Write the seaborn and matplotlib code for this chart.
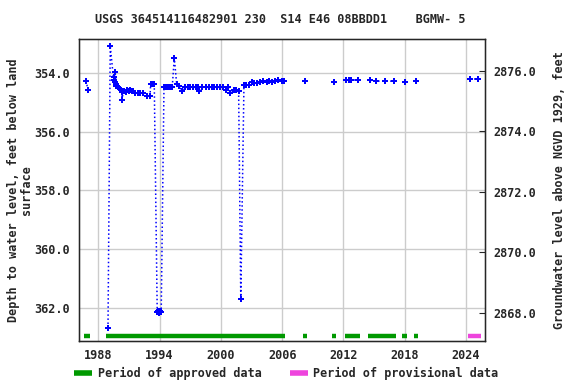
"""
plot.py -- groundwater depth chart for USGS 364514116482901 (BGMW- 5).

Depth to water on the left axis (inverted), elevation on the right,
with the approved / provisional record periods as bars along the bottom.
"""

import numpy as np
import pandas as pd
import matplotlib
matplotlib.use("Agg")
import matplotlib.pyplot as plt
from matplotlib.lines import Line2D
import seaborn as sns

TITLE = "USGS 364514116482901 230  S14 E46 08BBDD1    BGMW- 5"

# ---- measurements (decimal year, depth in feet below land surface) ----
years = [
    1986.80, 1987.00,
    1988.95, 1989.17, 1989.50, 1989.55, 1989.60, 1989.66, 1989.72, 1989.78,
    1989.90, 1990.00, 1990.10, 1990.19, 1990.28, 1990.35, 1990.42, 1990.55,
    1990.70, 1990.85, 1991.00, 1991.15, 1991.30, 1991.40, 1991.62, 1991.90,
    1992.10, 1992.35, 1992.74, 1993.06, 1993.13, 1993.30, 1993.48,
    1993.77, 1993.88, 1993.98, 1994.08, 1994.16,
    1994.43, 1994.60, 1994.80, 1995.00, 1995.24, 1995.44, 1995.67, 1995.90,
    1996.19, 1996.48, 1996.75, 1997.00, 1997.30, 1997.55, 1997.78, 1997.88,
    1998.20, 1998.50, 1998.80, 1999.10, 1999.35, 1999.60, 1999.90, 2000.23,
    2000.47, 2000.72, 2000.92, 2001.28, 2001.50, 2001.74, 2001.95,
    2002.26, 2002.50, 2002.77, 2003.00, 2003.24, 2003.50, 2003.80, 2004.15,
    2004.48, 2004.74, 2005.00, 2005.30, 2005.60, 2005.95, 2006.17,
    2008.25, 2011.09, 2012.30, 2012.50, 2012.70, 2013.41, 2014.60, 2015.17,
    2016.05, 2016.93, 2018.04, 2019.11, 2024.37, 2025.18,
]
depths = [
    354.28, 354.60,
    362.67, 353.09, 354.25, 354.15, 354.33, 353.99, 354.40, 354.45,
    354.50, 354.53, 354.57, 354.59, 354.65, 354.93, 354.62, 354.61,
    354.66, 354.60, 354.64, 354.60, 354.62, 354.61, 354.68, 354.70,
    354.69, 354.70, 354.80, 354.80, 354.39, 354.38, 354.39,
    362.14, 362.10, 362.16, 362.10, 362.14,
    354.50, 354.50, 354.50, 354.50, 354.50, 353.49, 354.38, 354.47,
    354.61, 354.50, 354.50, 354.50, 354.50, 354.50, 354.50, 354.61,
    354.50, 354.50, 354.50, 354.50, 354.50, 354.50, 354.50, 354.50,
    354.59, 354.50, 354.69, 354.60, 354.58, 354.63, 361.68,
    354.42, 354.41, 354.42, 354.33, 354.35, 354.35, 354.33, 354.30,
    354.33, 354.30, 354.31, 354.28, 354.26, 354.28, 354.29,
    354.29, 354.33, 354.26, 354.26, 354.26, 354.26, 354.26, 354.29,
    354.29, 354.29, 354.33, 354.29, 354.22, 354.22,
]

# ---- record periods (start, end) ----
approved_start = [1986.6, 1988.76, 2008.0, 2010.87, 2012.14, 2014.36, 2017.78, 2018.9]
approved_end = [1987.2, 2006.27, 2008.42, 2011.26, 2013.6, 2017.13, 2018.2, 2019.28]
provisional_start = [2024.15]
provisional_end = [2025.45]

x_ticks = [1988, 1994, 2000, 2006, 2012, 2018, 2024]
left_ticks = [354, 356, 358, 360, 362]
right_ticks = [2868, 2870, 2872, 2874, 2876]

BLUE = "#0000ff"
GREEN = "#009900"
PINK = "#ee44dd"
FONT = "DejaVu Sans Mono"
FS = 8.5

sns.set_style("white")
plt.rcParams["font.family"] = [FONT]
plt.rcParams["font.weight"] = "bold"

df = pd.DataFrame({"year": years, "depth": depths})
# measurements more than a year apart are not joined
df["seg"] = (df["year"].diff() > 1.0).cumsum()

fig, ax = plt.subplots(figsize=(5.76, 3.84), dpi=100)
fig.subplots_adjust(left=0.1366, right=0.842, top=0.8977, bottom=0.112)

sns.lineplot(data=df, x="year", y="depth", units="seg", estimator=None,
             sort=False, color=BLUE, linestyle=":", linewidth=1.1, ax=ax)
sns.scatterplot(data=df, x="year", y="depth", marker="P", s=16,
                color=BLUE, edgecolor=BLUE, linewidth=0, ax=ax, zorder=3)

bar_y = 362.93
for s, e in zip(approved_start, approved_end):
    ax.plot([s, e], [bar_y, bar_y], color=GREEN, linewidth=3.2,
            solid_capstyle="butt")
for s, e in zip(provisional_start, provisional_end):
    ax.plot([s, e], [bar_y, bar_y], color=PINK, linewidth=3.2,
            solid_capstyle="butt")

ax.set_xlim(1986.08, 2025.86)
ax.set_ylim(363.11, 352.87)
ax.set_xticks(x_ticks)
ax.set_yticks(left_ticks)
ax.set_yticklabels([f"{v:.1f}" for v in left_ticks], fontsize=FS, fontweight="bold")
ax.set_xticklabels([str(v) for v in x_ticks], fontsize=FS, fontweight="bold")
ax.grid(True, color="#cccccc", linewidth=1)
ax.tick_params(axis="both", length=0, pad=6)
ax.set_xlabel("")
ax.set_ylabel("Depth to water level, feet below land\nsurface",
              fontsize=FS, fontweight="bold", labelpad=1, linespacing=1.05)
for sp in ax.spines.values():
    sp.set_color("black")
    sp.set_linewidth(1)

ax2 = ax.twinx()
ax2.set_ylim(2867.06, 2877.04)
ax2.set_yticks(right_ticks)
ax2.set_yticklabels([f"{v:.1f}" for v in right_ticks], fontsize=FS,
                    fontweight="bold")
ax2.tick_params(axis="y", direction="in", length=4, pad=6)
ax2.set_ylabel("Groundwater level above NGVD 1929, feet", fontsize=FS,
               fontweight="bold", labelpad=12)
ax2.grid(False)

fig.suptitle(TITLE, x=0.487, y=0.965, fontsize=FS, fontweight="bold")

handles = [Line2D([], [], color=GREEN, linewidth=4, solid_capstyle="butt"),
           Line2D([], [], color=PINK, linewidth=4, solid_capstyle="butt")]
fig.legend(handles, ["Period of approved data", "Period of provisional data"],
           loc="lower left", bbox_to_anchor=(0.11, -0.018), ncol=2,
           frameon=False, handlelength=1.5, handletextpad=0.5,
           columnspacing=2.4,
           prop={"family": FONT, "weight": "bold", "size": FS})

fig.savefig("out.png", dpi=100)
